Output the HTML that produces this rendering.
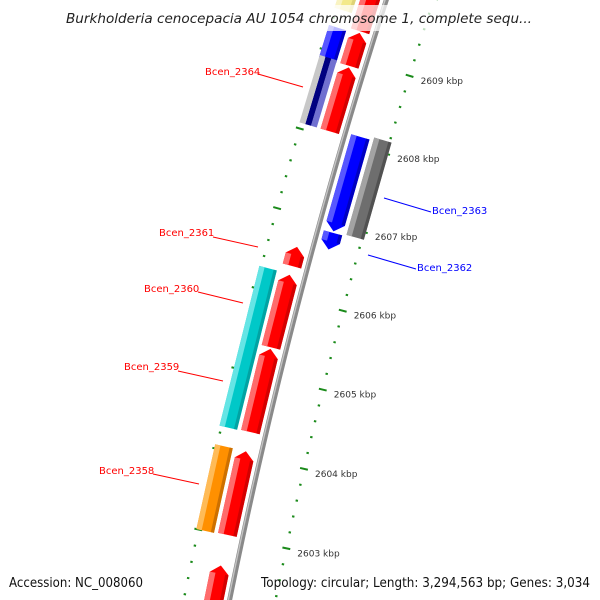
<!DOCTYPE html>
<html><head><meta charset="utf-8"><style>
html,body{margin:0;padding:0;background:#fff;width:600px;height:600px;overflow:hidden;}
svg{display:block;font-family:"DejaVu Sans","Liberation Sans",sans-serif;}
</style></head><body>
<svg id="map" width="600" height="600" viewBox="0 0 600 600" xmlns="http://www.w3.org/2000/svg">
<g id="ticks"></g>
<g id="backbone"></g>
<g id="genes"></g>
<g id="leaders">
<line x1="258" y1="74" x2="303" y2="87" stroke="#f00" stroke-width="1"/>
<line x1="384" y1="198" x2="431" y2="212" stroke="#00f" stroke-width="1"/>
<line x1="213" y1="237" x2="258" y2="247" stroke="#f00" stroke-width="1"/>
<line x1="368" y1="255" x2="416" y2="269" stroke="#00f" stroke-width="1"/>
<line x1="198" y1="292" x2="243" y2="303" stroke="#f00" stroke-width="1"/>
<line x1="178" y1="371" x2="223" y2="381" stroke="#f00" stroke-width="1"/>
<line x1="153" y1="474" x2="199" y2="484" stroke="#f00" stroke-width="1"/>
</g>
<g id="labels" font-size="10">
<text x="205" y="75" fill="#f00">Bcen_2364</text>
<text x="432" y="214" fill="#00f">Bcen_2363</text>
<text x="159" y="236" fill="#f00">Bcen_2361</text>
<text x="417" y="271" fill="#00f">Bcen_2362</text>
<text x="144" y="292" fill="#f00">Bcen_2360</text>
<text x="124" y="370" fill="#f00">Bcen_2359</text>
<text x="99" y="474" fill="#f00">Bcen_2358</text>
</g>
<g id="tickLabels" font-size="9" fill="#333"></g>
<rect x="62" y="5" width="478" height="26" fill="#fff" opacity="0.72"/>
<text x="66" y="23" font-size="13.5" font-style="italic" fill="#222" textLength="466" lengthAdjust="spacingAndGlyphs">Burkholderia cenocepacia AU 1054 chromosome 1, complete sequ...</text>
<text x="9" y="587" font-size="13" fill="#111" textLength="134" lengthAdjust="spacingAndGlyphs">Accession: NC_008060</text>
<text x="261" y="587" font-size="13" fill="#111" textLength="329" lengthAdjust="spacingAndGlyphs">Topology: circular; Length: 3,294,563 bp; Genes: 3,034</text>
</svg>
<script>
// gene data (kbp)
const geneNames = ["r1","r2","r3","r4","r5","r6","r7","r8","yellow","blue-o","bcen-2364","cyan","orange","b1","b2","gray"];
const geneStart = [2609.34,2608.90,2608.07,2606.37,2605.35,2604.29,2603.01,2602.00,2609.52,2608.89,2608.07,2604.28,2603.00,2606.91,2606.68,2606.91];
const geneEnd   = [2610.10,2609.32,2608.88,2606.61,2606.26,2605.33,2604.05,2602.63,2610.30,2609.30,2608.92,2606.27,2604.05,2608.11,2606.89,2608.15];
const geneLane  = [1,1,1,1,1,1,1,1,2,2,2,2,2,-1,-1,-2];
const geneArrow = [1,1,1,1,1,1,1,1,0,0,0,0,0,-1,-1,0];
const geneColor = ["#ff0000","#ff0000","#ff0000","#ff0000","#ff0000","#ff0000","#ff0000","#ff0000","#f3e98a","#0000ff","stripe","#00c8c8","#ff9000","#0000ff","#0000ff","#6e6e6e"];
const tickMajor = [2603,2604,2605,2606,2607,2608,2609];
const tickLabelText = ["2603 kbp","2604 kbp","2605 kbp","2606 kbp","2607 kbp","2608 kbp","2609 kbp"];

const NS="http://www.w3.org/2000/svg";
const CX=5684, CY=1704, R=5565;
function pt(k,r){const t=(16.31+0.845*(k-2608))*Math.PI/180;return [CX-r*Math.cos(t), CY-r*Math.sin(t)];}
function mk(tag,attrs,parent){const e=document.createElementNS(NS,tag);for(const a in attrs)e.setAttribute(a,attrs[a]);parent.appendChild(e);return e;}
function ps(arr){return arr.map(p=>p[0].toFixed(2)+","+p[1].toFixed(2)).join(" ");}
const laneR={1:[R+6,R+25],2:[R+29,R+47],"-1":[R-25,R-6],"-2":[R-47,R-29]};

// ticks
const tg=document.getElementById('ticks');
for(let i=0;i<=45;i++){
  const k=2601.8+i*0.2; const major=Math.abs(k-Math.round(k))<0.01;
  [5520,5610].forEach(rr=>{
    const a=pt(k,rr-(major?4:1.2)), b=pt(k,rr+(major?4:1.2));
    const l=mk('line',{x1:a[0],y1:a[1],x2:b[0],y2:b[1],stroke:"#1a8a1a","stroke-width":2},tg);
    
    
  });
}
const tl=document.getElementById('tickLabels');
tickMajor.forEach((k,i)=>{
  const p=pt(k,5520);
  const t=mk('text',{x:(p[0]+11).toFixed(1),y:(p[1]+8).toFixed(1)},tl);
  t.textContent=tickLabelText[i];
  
  
});

// backbone
const bg=document.getElementById('backbone');
const bp=[],bp2=[];for(let k=2602.0;k<=2610.1;k+=0.1){bp.push(pt(k,R));bp2.push(pt(k,R+1.2));}
const b1=mk('polyline',{points:ps(bp),fill:"none",stroke:"#8a8a8a","stroke-width":5},bg);


mk('polyline',{points:ps(bp2),fill:"none",stroke:"#c4c4c4","stroke-width":1.4},bg);

// genes
const gg=document.getElementById('genes');
function shade(c){const m={"#ff0000":"#ff7777","#0000ff":"#6060ff","#00c8c8":"#70e8e8","#ff9000":"#ffc060","#6e6e6e":"#a8a8a8","#f3e98a":"#faf4c8"};return m[c]||c;}
function dark(c){const m={"#ff0000":"#c80000","#0000ff":"#0000b0","#00c8c8":"#009a9a","#ff9000":"#c06800","#6e6e6e":"#4a4a4a","#f3e98a":"#d8cc70"};return m[c]||c;}
const H=0.1;
function shape(s,e,r1,r2,arrow){
  const rm=(r1+r2)/2;
  if(arrow===1) return [pt(s,r1),pt(e-H,r1),pt(e,rm),pt(e-H,r2),pt(s,r2)];
  if(arrow===-1) return [pt(e,r1),pt(s+H,r1),pt(s,rm),pt(s+H,r2),pt(e,r2)];
  return [pt(s,r1),pt(e,r1),pt(e,r2),pt(s,r2)];
}
geneNames.forEach((n,i)=>{
  const [r1,r2]=laneR[geneLane[i]]; const s=geneStart[i], e=geneEnd[i], c=geneColor[i];
  const g=mk('g',{},gg);
  
  
  if(c==="stripe"){
    const w=(r2-r1)/3;
    mk('polygon',{points:ps(shape(s,e,r1,r1+w,0)),fill:"#7070d0"},g);
    mk('polygon',{points:ps(shape(s,e,r1+w,r1+2*w,0)),fill:"#000080"},g);
    mk('polygon',{points:ps(shape(s,e,r1+2*w,r2,0)),fill:"#c8c8c8"},g);
    return;
  }
  const a=geneArrow[i];
  mk('polygon',{points:ps(shape(s,e,r1,r2,a)),fill:c},g);
  const ss = a===-1 ? s+H : s, ee = a===1 ? e-H : e;
  const w=r2-r1;
  mk('polygon',{points:ps(shape(ss,ee,r2-w*0.3,r2,0)),fill:shade(c),opacity:0.9},g);
  mk('polygon',{points:ps(shape(ss,ee,r1,r1+w*0.18,0)),fill:dark(c),opacity:0.8},g);
});
</script>
</body></html>
